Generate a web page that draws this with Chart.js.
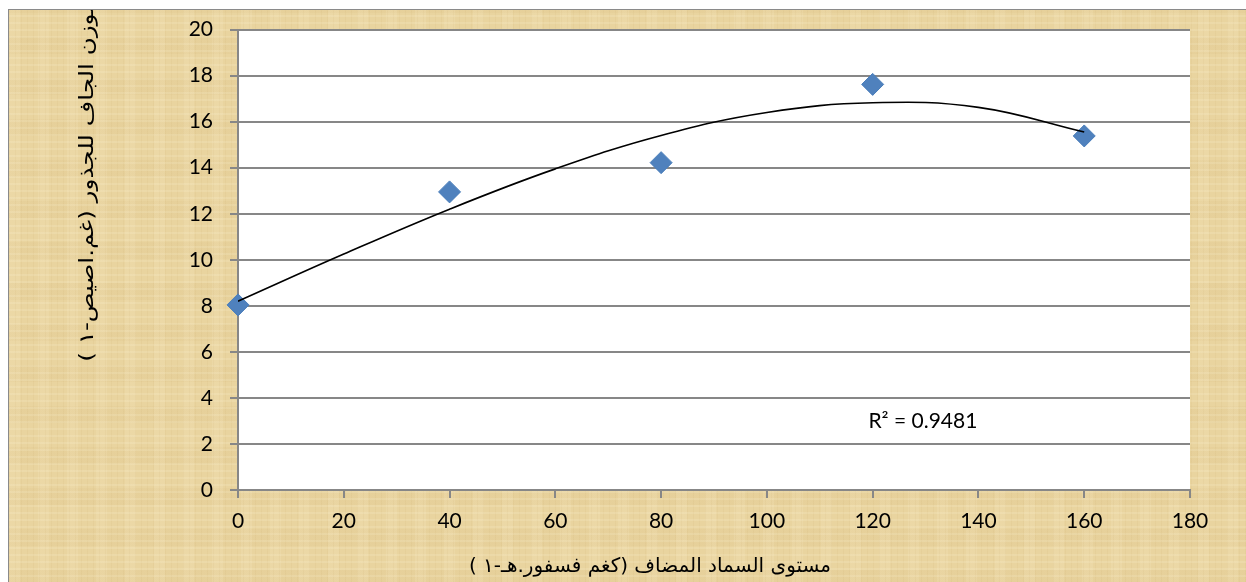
<!DOCTYPE html>
<html>
<head>
<meta charset="utf-8">
<script src="https://cdn.jsdelivr.net/npm/chart.js@4"></script>
<style>
  html, body { margin:0; padding:0; background:#fff; }
  #frame {
    position:absolute; left:8px; top:9px; width:1400px; height:700px;
    border:1px solid #8a8a8a; overflow:hidden;
    background-color:#e9d49f;
    background-image:
      repeating-linear-gradient(0deg, rgba(255,250,225,0.14) 0 2px, rgba(0,0,0,0) 2px 7px),
      repeating-linear-gradient(90deg, rgba(170,130,60,0.06) 0 1px, rgba(0,0,0,0) 1px 6px),
      repeating-linear-gradient(90deg, rgba(255,245,215,0.12) 0 11px, rgba(0,0,0,0) 11px 29px),
      repeating-linear-gradient(0deg, rgba(190,150,80,0.06) 0 17px, rgba(0,0,0,0) 17px 41px);
  }
  #wrap { position:absolute; left:-9px; top:-10px; width:1246px; height:582px; }
</style>
</head>
<body>
<div id="frame"><div id="wrap"><canvas id="c" width="1246" height="582"></canvas></div></div>
<script>
// measured points (phosphorus level, root dry weight)
const levels = [0, 40, 80, 120, 160];
const dryWeight = [8.04, 12.95, 14.22, 17.62, 15.38];

// trendline
const trendX = [0, 20, 40, 60, 80, 100, 120, 140, 160];
const trendY = [8.2, 10.25, 12.2, 13.95, 15.4, 16.4, 16.82, 16.62, 15.55];

const xTitle = 'مستوى السماد المضاف (كغم فسفور.هـ-١ )';
const yTitle = 'الوزن الجاف للجذور (غم.اصيص-١ )';
const r2Text = 'R² = 0.9481';

const gridColor = '#878787';

const plotBg = {
  id: 'plotBg',
  beforeDraw(chart){
    const {ctx, chartArea:a} = chart;
    ctx.save();
    ctx.fillStyle = '#fff';
    ctx.fillRect(a.left, a.top, a.right - a.left, a.bottom - a.top);
    ctx.restore();
  }
};

const texts = {
  id: 'texts',
  afterDraw(chart){
    const ctx = chart.ctx;
    const xs = chart.scales.x, ys = chart.scales.y;
    ctx.save();
    ctx.fillStyle = '#000';
    ctx.font = '20px "DejaVu Sans", sans-serif';
    ctx.textAlign = 'center';
    ctx.textBaseline = 'middle';
    ctx.fillText(xTitle, 650, 567);
    ctx.save();
    ctx.translate(88, 180);
    ctx.rotate(-Math.PI/2);
    ctx.scale(1.23, 1);
    ctx.fillText(yTitle, 0, 0);
    ctx.restore();
    ctx.font = '21px Lato, "Open Sans", sans-serif';
    ctx.fillText(r2Text, xs.getPixelForValue(129.5), ys.getPixelForValue(3));
    ctx.restore();
  }
};

new Chart(document.getElementById('c'), {
  type: 'scatter',
  data: {
    datasets: [
      {
        label: 'trend',
        data: trendX.map((x, i) => ({x, y: trendY[i]})),
        showLine: true,
        borderColor: '#000',
        borderWidth: 1.6,
        pointRadius: 0,
        tension: 0.4,
        fill: false
      },
      {
        label: 'points',
        data: levels.map((x, i) => ({x, y: dryWeight[i]})),
        pointStyle: 'rectRot',
        pointRadius: 11,
        backgroundColor: '#4f81bd',
        borderColor: '#4a7ebb',
        borderWidth: 1,
        clip: false
      }
    ]
  },
  options: {
    responsive: false,
    animation: false,
    layout: { padding: { left: 10, top: 25, right: 56, bottom: 0 } },
    plugins: { legend: { display: false }, tooltip: { enabled: false } },
    scales: {
      x: {
        type: 'linear', min: 0, max: 180,
        ticks: { stepSize: 20, padding: 11, color: '#000', font: { family: 'Lato', size: 21 } },
        grid: { drawOnChartArea: false, color: gridColor, lineWidth: 2, tickLength: 8 },
        border: { color: gridColor, width: 2 },
        afterFit(s){ s.height = 92; }
      },
      y: {
        min: 0, max: 20,
        ticks: { stepSize: 2, padding: 17, color: '#000', font: { family: 'Lato', size: 21 } },
        grid: { color: gridColor, lineWidth: 2, tickLength: 8 },
        border: { color: gridColor, width: 2 },
        afterFit(s){ s.width = 228; }
      }
    }
  },
  plugins: [plotBg, texts]
});
</script>
</body>
</html>
